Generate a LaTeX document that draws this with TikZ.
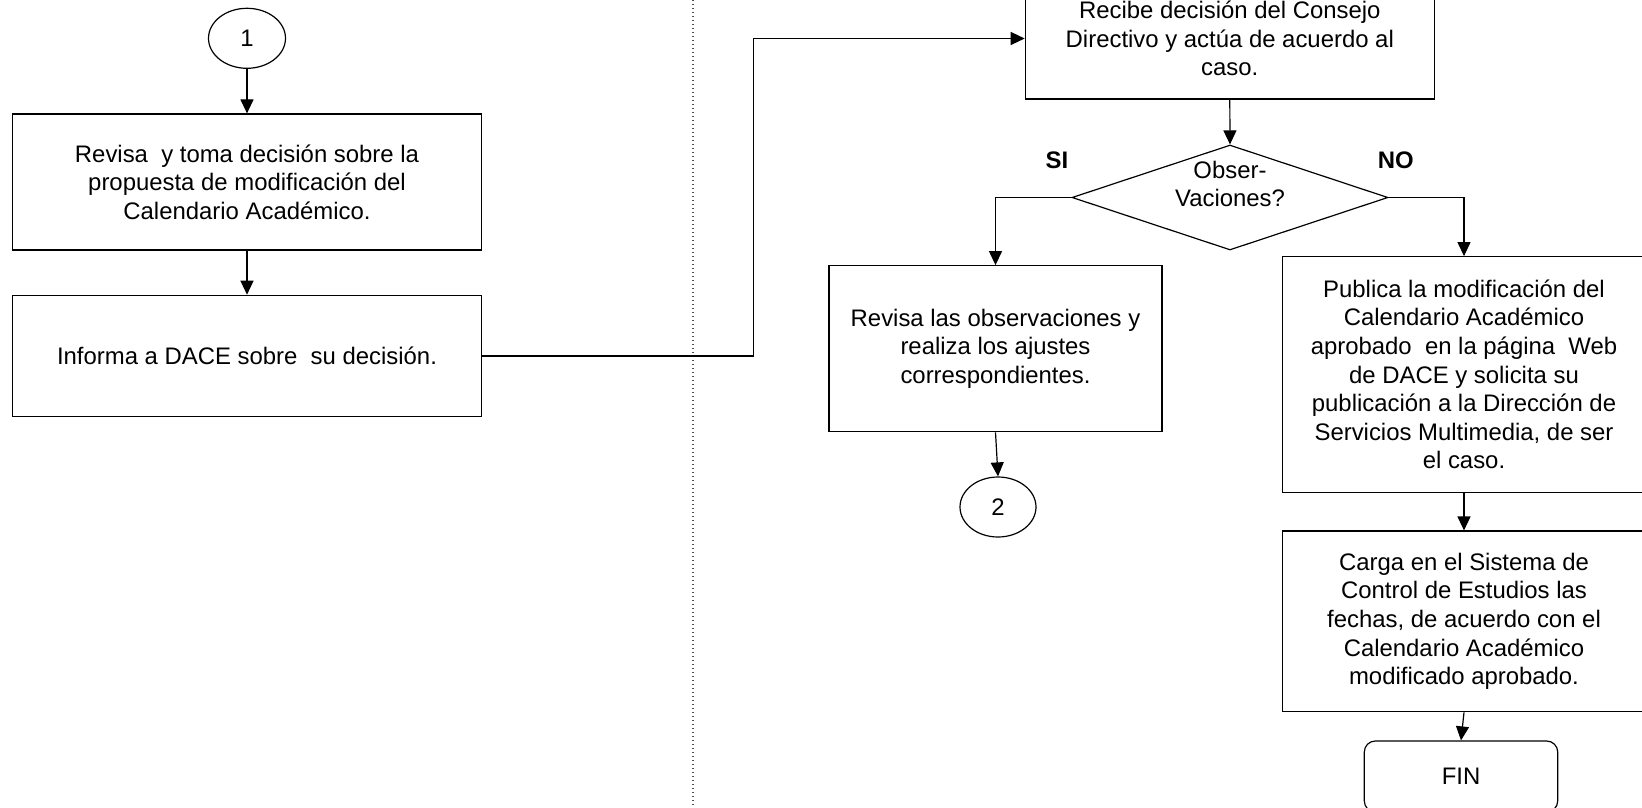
\documentclass[tikz,border=0pt]{standalone}
\usepackage{fontspec}
\setmainfont{Liberation Sans}
\usetikzlibrary{arrows.meta,shapes.geometric}
\definecolor{dotgray}{HTML}{4D4D4D}
\tikzset{
  txt/.style={font=\fontsize{23.9}{28.6}\selectfont, align=center, inner sep=0pt},
  procbox/.style={txt, draw, line width=1.2pt, rectangle},
  conn/.style={txt, draw, line width=1.2pt, ellipse},
  decision/.style={draw, line width=1.2pt, diamond, inner sep=0pt},
  endbox/.style={txt, draw, line width=1.2pt, rectangle, rounded corners=11pt},
  arr/.style={line width=1.2pt, -{Triangle[length=14pt,width=13pt]}},
  lane/.style={line width=1.3pt, dotgray, dash pattern=on 1.3pt off 2.7pt},
  yn/.style={font=\fontsize{23.9}{28.6}\selectfont\bfseries, inner sep=0pt}
}
\begin{document}
\begin{tikzpicture}[x=1pt,y=-1pt]
\useasboundingbox (0,0) rectangle (1642,808);
\fill[white] (0,0) rectangle (1642,808);
% swimlane divider
\coordinate (laneTop) at (693,0);
\coordinate (laneBot) at (693,808);
\draw[lane] (laneTop) -- (laneBot);

% left lane
\node[conn, minimum width=77pt, minimum height=60pt] (c1) at (247,38.3) {1};
\node[procbox, minimum width=469.4pt, minimum height=136pt] (b1) at (247,182)
  {Revisa\ \ y toma decisión sobre la\\propuesta de modificación del\\Calendario Académico.};
\node[procbox, minimum width=469.4pt, minimum height=121.4pt] (b2) at (247,356)
  {Informa a DACE sobre\ \ su decisión.};

% right lane
\node[procbox, minimum width=409pt, minimum height=121pt] (b3) at (1229.8,38.5)
  {Recibe decisión del Consejo\\Directivo y actúa de acuerdo al\\caso.};
\node[decision, minimum width=316pt, minimum height=105pt] (d) at (1230,197.5) {};
\node[txt] (dtext) at (1230,184) {Obser-\\Vaciones?};
\node[yn] (si) at (1057,160.5) {SI};
\node[yn] (no) at (1395.7,160.5) {NO};

\node[procbox, minimum width=333pt, minimum height=166pt] (b4) at (995.5,348.7)
  {Revisa las observaciones y\\realiza los ajustes\\correspondientes.};
\node[conn, minimum width=76pt, minimum height=60pt] (c2) at (998,507) {2};

\node[procbox, minimum width=363.4pt, minimum height=235.6pt] (b5) at (1464,374.5)
  {Publica la modificación del\\Calendario Académico\\aprobado\ \ en la página\ \ Web\\de DACE y solicita su\\publicación a la Dirección de\\Servicios Multimedia, de ser\\el caso.};
\node[procbox, minimum width=363.4pt, minimum height=180.7pt] (b6) at (1464,621.4)
  {Carga en el Sistema de\\Control de Estudios las\\fechas, de acuerdo con el\\Calendario Académico\\modificado aprobado.};
\node[endbox, minimum width=193.4pt, minimum height=71pt] (fin) at (1461,776.5) {FIN};

% connectors
\coordinate (bend) at (753.3,356);
\draw[arr] (c1.south) -- (b1.north);
\draw[arr] (b1.south) -- (b2.north);
\draw[arr] (b2.east) -- (bend) |- (b3.west);
\draw[arr] (b3.south) -- (d.north);
\draw[arr] (d.west) -| (b4.north);
\draw[arr] (d.east) -| (b5.north);
\draw[arr] (b4.south) -- (c2.north);
\draw[arr] (b5.south) -- (b6.north);
\draw[arr] (b6.south) -- (fin.north);
\end{tikzpicture}
\end{document}
